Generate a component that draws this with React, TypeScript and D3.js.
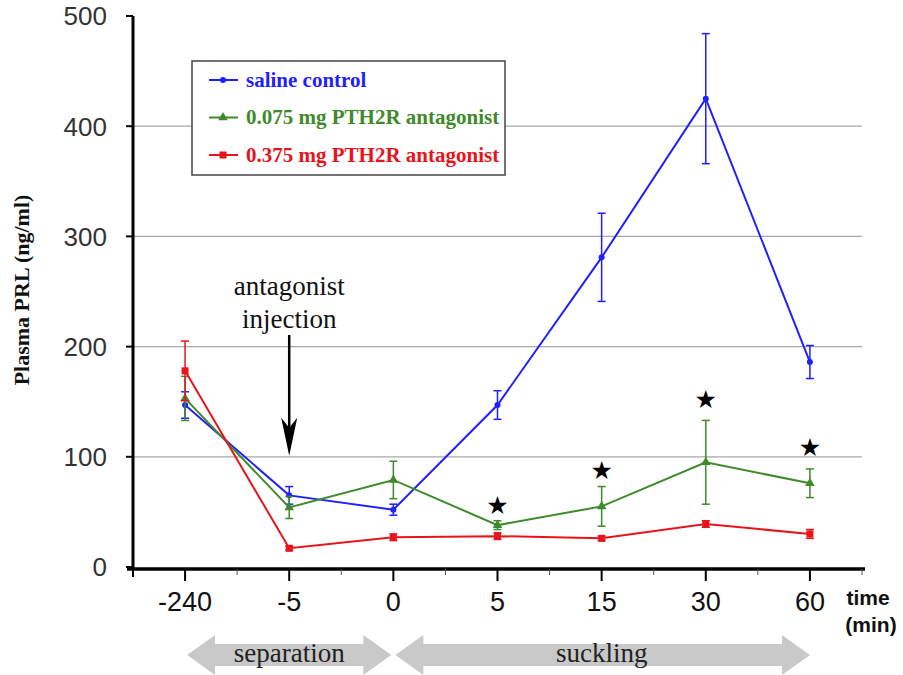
import React from "react";
import * as d3 from "d3";

const categories = ["-240", "-5", "0", "5", "15", "30", "60"];
const yTicks = [0, 100, 200, 300, 400, 500];

const salineMean = [147, 65, 52, 147, 281, 425, 186];
const salineErr = [12, 8, 5, 13, 40, 59, 15];
const lowMean = [153, 54, 79, 38, 55, 95, 76];
const lowErr = [20, 10, 17, 4, 18, 38, 13];
const highMean = [178, 17, 27, 28, 26, 39, 30];
const highErr = [27, 2, 3, 3, 2, 3, 4];

// significance stars: category + value height
const starCats = ["5", "15", "30", "60"];
const starVals = [56, 88, 152, 109];

const series = [
  { name: "saline control", mean: salineMean, err: salineErr, color: "#1f1fff", marker: "circle" },
  { name: "0.075 mg PTH2R antagonist", mean: lowMean, err: lowErr, color: "#3f8a2a", marker: "triangle" },
  { name: "0.375 mg PTH2R antagonist", mean: highMean, err: highErr, color: "#e8141c", marker: "square" },
];

const W = 903;
const H = 675;
const left = 133;
const right = 862;
const top = 16;
const bottom = 567;

function Marker({ type, x, y, color }: { type: string; x: number; y: number; color: string }) {
  if (type === "circle") return <circle cx={x} cy={y} r={3} fill={color} />;
  if (type === "square") return <rect x={x - 3.5} y={y - 3.5} width={7} height={7} fill={color} />;
  const p = d3.symbol(d3.symbolTriangle, 40)();
  return <path d={p || ""} transform={`translate(${x},${y})`} fill={color} />;
}

function doubleArrow(x1: number, x2: number, cy: number) {
  const hl = 28, bh = 11, hh = 20;
  return [
    [x1, cy], [x1 + hl, cy - hh], [x1 + hl, cy - bh], [x2 - hl, cy - bh], [x2 - hl, cy - hh],
    [x2, cy], [x2 - hl, cy + hh], [x2 - hl, cy + bh], [x1 + hl, cy + bh], [x1 + hl, cy + hh],
  ].map(p => p.join(",")).join(" ");
}

export default function App() {
  const x = d3.scaleBand().domain(categories).range([left, right]);
  const cx = (c: string) => (x(c) as number) + x.bandwidth() / 2;
  const y = d3.scaleLinear().domain([0, 500]).range([bottom, top]);

  const line = d3.line<number>().x((d, i) => cx(categories[i])).y(d => y(d));
  const arrowX = cx("-5");
  const serif = "'Liberation Serif', 'Times New Roman', serif";
  const sans = "'Liberation Sans', Arial, sans-serif";
  const narrow = "'Liberation Sans Narrow', 'Liberation Sans', Arial, sans-serif";

  return (
    <svg width={W} height={H} style={{ position: "absolute", left: 0, top: 0 }}>
      <rect width={W} height={H} fill="#fff" />
      {/* grid */}
      {yTicks.filter(t => t > 0 && t < 500).map(t => (
        <line key={t} x1={left} x2={right} y1={y(t)} y2={y(t)} stroke="#a8a8a8" strokeWidth={1.3} />
      ))}
      {/* y axis */}
      <line x1={left} x2={left} y1={top} y2={bottom + 3} stroke="#000" strokeWidth={3} />
      {yTicks.map(t => (
        <g key={t}>
          <line x1={left - 7} x2={left} y1={y(t)} y2={y(t)} stroke="#000" strokeWidth={2} />
          <text x={107} y={y(t)} dy="0.36em" textAnchor="end" fontFamily={sans} fontSize={26} fill="#333">{t}</text>
        </g>
      ))}
      <text transform={`translate(29,290) rotate(-90)`} textAnchor="middle"
        fontFamily={serif} fontWeight="bold" fontSize={22} fill="#111">Plasma PRL (ng/ml)</text>
      {/* x axis */}
      <line x1={left - 6} x2={right + 3} y1={bottom + 2} y2={bottom + 2} stroke="#000" strokeWidth={3.5} />
      {categories.map(c => (
        <g key={c}>
          <line x1={cx(c)} x2={cx(c)} y1={bottom + 2} y2={bottom + 14} stroke="#000" strokeWidth={2} />
          <line x1={cx(c) + x.step() / 2} x2={cx(c) + x.step() / 2} y1={bottom + 2} y2={bottom + 8} stroke="#555" strokeWidth={1} />
          <text x={cx(c)} y={bottom + 44} textAnchor="middle" fontFamily={narrow} fontSize={27} fill="#111">{c}</text>
        </g>
      ))}
      <line x1={left} x2={left} y1={bottom + 2} y2={bottom + 10} stroke="#000" strokeWidth={2} />
      <text x={868} y={605} textAnchor="middle" fontFamily={sans} fontWeight="bold" fontSize={21} fill="#111">time</text>
      <text x={871} y={632} textAnchor="middle" fontFamily={sans} fontWeight="bold" fontSize={21} fill="#111">(min)</text>

      {/* series */}
      {series.map(s => (
        <g key={s.name}>
          {s.mean.map((m, i) => {
            const px = cx(categories[i]);
            return (
              <g key={i} stroke={s.color} strokeWidth={1.5}>
                <line x1={px} x2={px} y1={y(m + s.err[i])} y2={y(m - s.err[i])} />
                <line x1={px - 4} x2={px + 4} y1={y(m + s.err[i])} y2={y(m + s.err[i])} />
                <line x1={px - 4} x2={px + 4} y1={y(m - s.err[i])} y2={y(m - s.err[i])} />
              </g>
            );
          })}
          <path d={line(s.mean) || ""} fill="none" stroke={s.color} strokeWidth={2} />
          {s.mean.map((m, i) => (
            <Marker key={i} type={s.marker} x={cx(categories[i])} y={y(m)} color={s.color} />
          ))}
        </g>
      ))}

      {/* stars */}
      {starCats.map((c, i) => (
        <text key={c} x={cx(c)} y={y(starVals[i])} dy="0.35em" textAnchor="middle" fontFamily="'DejaVu Sans', sans-serif" fontSize={25} fill="#000">★</text>
      ))}

      {/* annotation */}
      <text x={arrowX} y={295} textAnchor="middle" fontFamily={serif} fontSize={27} fill="#111">antagonist</text>
      <text x={arrowX} y={328} textAnchor="middle" fontFamily={serif} fontSize={27} fill="#111">injection</text>
      <line x1={arrowX} x2={arrowX} y1={335} y2={440} stroke="#000" strokeWidth={2.5} />
      <path d={`M${arrowX},${y(101)} L${arrowX - 8},${y(101) - 38} L${arrowX},${y(101) - 28} L${arrowX + 8},${y(101) - 38} Z`} fill="#000" />

      {/* legend */}
      <rect x={192} y={61} width={313} height={114} fill="#fff" stroke="#444" strokeWidth={1.5} />
      {series.map((s, i) => {
        const ly = 80 + i * 37.5;
        return (
          <g key={s.name}>
            <line x1={209} x2={238} y1={ly} y2={ly} stroke={s.color} strokeWidth={2} />
            <Marker type={s.marker} x={223} y={ly} color={s.color} />
            <text x={246} y={ly} dy="0.33em" fontFamily={serif} fontWeight="bold" fontSize={21} fill={s.color}>{s.name}</text>
          </g>
        );
      })}

      {/* phase arrows */}
      <polygon points={doubleArrow(cx("-240") + 2, cx("0") - 2, 655)} fill="#c9c9c9" />
      <polygon points={doubleArrow(cx("0") + 2, cx("60"), 655)} fill="#c9c9c9" />
      <text x={(cx("-240") + cx("0")) / 2} y={662} textAnchor="middle" fontFamily={serif} fontSize={27} fill="#222">separation</text>
      <text x={(cx("0") + cx("60")) / 2} y={662} textAnchor="middle" fontFamily={serif} fontSize={27} fill="#222">suckling</text>
    </svg>
  );
}
